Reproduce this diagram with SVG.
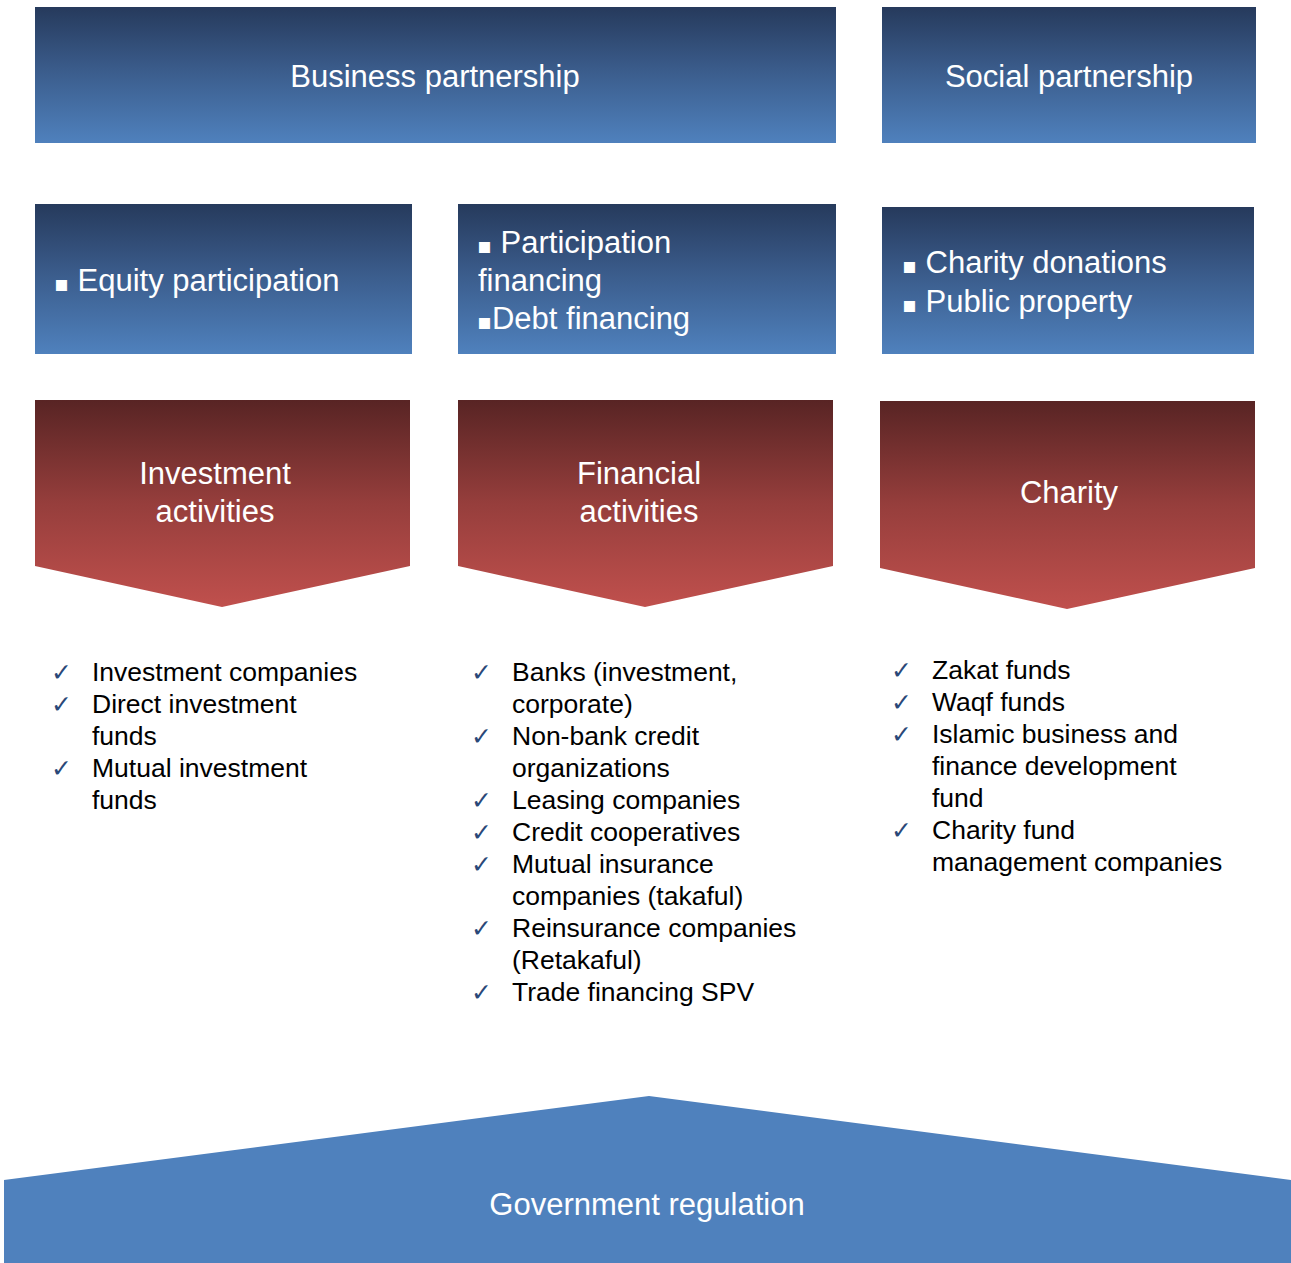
<svg xmlns="http://www.w3.org/2000/svg" width="1291" height="1263" viewBox="0 0 1291 1263">
<defs>
<linearGradient id="gBlue" x1="0" y1="0" x2="0" y2="1">
<stop offset="0" stop-color="#263A5C"/>
<stop offset="0.45" stop-color="#3A5B8A"/>
<stop offset="1" stop-color="#4F81BD"/>
</linearGradient>
<linearGradient id="gRed" x1="0" y1="0" x2="0" y2="1">
<stop offset="0" stop-color="#582424"/>
<stop offset="0.5" stop-color="#963E3C"/>
<stop offset="1" stop-color="#C0504D"/>
</linearGradient>
<style>
.w{fill:#fff;font-family:"Liberation Sans",sans-serif;font-size:31px}
.c{text-anchor:middle}
.b{font-family:"DejaVu Sans",sans-serif;font-size:22px}
.l{fill:#000;font-family:"Liberation Sans",sans-serif;font-size:26.5px}
.k{fill:#2A4878;font-family:"DejaVu Sans",sans-serif;font-size:25px}
</style>
</defs>
<rect width="1291" height="1263" fill="#fff"/>
<g id="business"><rect x="35" y="7" width="801" height="136" fill="url(#gBlue)"/><text class="w c" x="435" y="87">Business partnership</text></g>
<g id="social"><rect x="882" y="7" width="374" height="136" fill="url(#gBlue)"/><text class="w c" x="1069" y="87" font-size="32.5">Social partnership</text></g>
<g id="equity"><rect x="35" y="204" width="377" height="150" fill="url(#gBlue)"/><text class="w" x="54" y="291" font-size="34"><tspan class="b">▪</tspan> Equity participation</text></g>
<g id="financing"><rect x="458" y="204" width="378" height="150" fill="url(#gBlue)"/>
<text class="w" x="477" y="253" font-size="34"><tspan class="b">▪</tspan> Participation</text>
<text class="w" x="478" y="291" font-size="34">financing</text>
<text class="w" x="477" y="329" font-size="34"><tspan class="b">▪</tspan>Debt financing</text></g>
<g id="donations"><rect x="882" y="207" width="372" height="147" fill="url(#gBlue)"/>
<text class="w" x="902" y="273" font-size="33"><tspan class="b">▪</tspan> Charity donations</text>
<text class="w" x="902" y="312" font-size="33"><tspan class="b">▪</tspan> Public property</text></g>
<g id="investment"><polygon points="35,400 410,400 410,566 222,607 35,566" fill="url(#gRed)"/>
<text class="w c" x="215" y="484" font-size="32.5">Investment</text><text class="w c" x="215" y="522" font-size="32.5">activities</text></g>
<g id="financial"><polygon points="458,400 833,400 833,566 645,607 458,566" fill="url(#gRed)"/>
<text class="w c" x="639" y="484" font-size="32.5">Financial</text><text class="w c" x="639" y="522" font-size="32.5">activities</text></g>
<g id="charity"><polygon points="880,401 1255,401 1255,568 1067,609 880,568" fill="url(#gRed)"/>
<text class="w c" x="1069" y="503" font-size="32.5">Charity</text></g>
<g id="list-investment">
<text class="k" x="51" y="681">✓</text><text class="l" x="92" y="681">Investment companies</text>
<text class="k" x="51" y="713">✓</text><text class="l" x="92" y="713">Direct investment</text>
<text class="l" x="92" y="745">funds</text>
<text class="k" x="51" y="777">✓</text><text class="l" x="92" y="777">Mutual investment</text>
<text class="l" x="92" y="809">funds</text>
</g>
<g id="list-financial">
<text class="k" x="471" y="681">✓</text><text class="l" x="512" y="681">Banks (investment,</text>
<text class="l" x="512" y="713">corporate)</text>
<text class="k" x="471" y="745">✓</text><text class="l" x="512" y="745">Non-bank credit</text>
<text class="l" x="512" y="777">organizations</text>
<text class="k" x="471" y="809">✓</text><text class="l" x="512" y="809">Leasing companies</text>
<text class="k" x="471" y="841">✓</text><text class="l" x="512" y="841">Credit cooperatives</text>
<text class="k" x="471" y="873">✓</text><text class="l" x="512" y="873">Mutual insurance</text>
<text class="l" x="512" y="905">companies (takaful)</text>
<text class="k" x="471" y="937">✓</text><text class="l" x="512" y="937">Reinsurance companies</text>
<text class="l" x="512" y="969">(Retakaful)</text>
<text class="k" x="471" y="1001">✓</text><text class="l" x="512" y="1001">Trade financing SPV</text>
</g>
<g id="list-charity">
<text class="k" x="891" y="679">✓</text><text class="l" x="932" y="679">Zakat funds</text>
<text class="k" x="891" y="711">✓</text><text class="l" x="932" y="711">Waqf funds</text>
<text class="k" x="891" y="743">✓</text><text class="l" x="932" y="743">Islamic business and</text>
<text class="l" x="932" y="775">finance development</text>
<text class="l" x="932" y="807">fund</text>
<text class="k" x="891" y="839">✓</text><text class="l" x="932" y="839">Charity fund</text>
<text class="l" x="932" y="871">management companies</text>
</g>
<g id="regulation"><polygon points="4,1180 649,1096 1291,1180 1291,1263 4,1263" fill="#4F81BD"/>
<text class="w c" x="647" y="1215" font-size="33">Government regulation</text></g>
<g id="connectors"/>
</svg>
